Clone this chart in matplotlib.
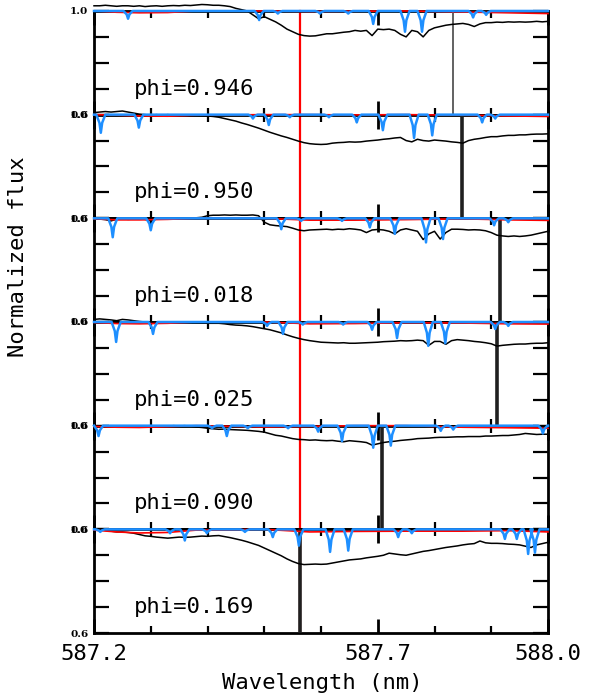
import numpy as np
import matplotlib
matplotlib.use('Agg')
import matplotlib.pyplot as plt
from matplotlib.ticker import FixedLocator, MultipleLocator

# ------------ data --------------------
phases = ['0.946', '0.950', '0.018', '0.025', '0.090', '0.169']
he_line = 587.563                       # red vertical line
mark_wl = [587.832, 587.849, 587.915, 587.910, 587.707, 587.563]   # black vertical lines

wave = np.linspace(587.2, 588.0, 81)   # 0.01 nm sampling

flux_946 = [1.02, 1.02, 1.022, 1.02, 1.018, 1.02, 1.02, 1.018, 1.02, 1.017,
            1.019, 1.02, 1.018, 1.02, 1.021, 1.02, 1.022, 1.021, 1.023, 1.025,
            1.024, 1.022, 1.022, 1.02, 1.017, 1.01, 1.005, 1.0, 0.985, 0.97,
            0.978, 0.968, 0.958, 0.945, 0.93, 0.92, 0.91, 0.905, 0.903, 0.904,
            0.908, 0.912, 0.912, 0.915, 0.918, 0.92, 0.925, 0.922, 0.925, 0.905,
            0.93, 0.928, 0.93, 0.925, 0.91, 0.90, 0.925, 0.92, 0.90, 0.925,
            0.935, 0.94, 0.945, 0.948, 0.95, 0.952, 0.948, 0.94, 0.95, 0.955,
            0.955, 0.957, 0.956, 0.958, 0.957, 0.958, 0.957, 0.958, 0.96, 0.958,
            0.96]
flux_950 = [1.008, 1.01, 1.012, 1.01, 1.012, 1.014, 1.01, 1.006, 1.002, 1.0,
            0.998, 1.0, 0.998, 1.0, 0.998, 0.997, 0.998, 0.996, 0.997, 0.996,
            0.995, 0.993, 0.99, 0.985, 0.98, 0.975, 0.968, 0.962, 0.955, 0.948,
            0.94, 0.932, 0.925, 0.918, 0.912, 0.905, 0.898, 0.892, 0.888, 0.886,
            0.885, 0.886, 0.89, 0.892, 0.893, 0.895, 0.894, 0.895, 0.898, 0.90,
            0.902, 0.905, 0.907, 0.91, 0.912, 0.90, 0.895, 0.905, 0.90, 0.898,
            0.902, 0.90, 0.898, 0.895, 0.893, 0.89, 0.90, 0.905, 0.908, 0.912,
            0.915, 0.915, 0.918, 0.92, 0.92, 0.922, 0.922, 0.924, 0.925, 0.925,
            0.926]
flux_018 = [0.998, 0.997, 0.995, 0.99, 0.997, 0.998, 0.996, 0.997, 0.998, 0.996,
            0.99, 0.997, 0.998, 0.999, 1.0, 0.999, 1.0, 1.0, 1.002, 1.004,
            1.01, 1.012, 1.012, 1.013, 1.012, 1.013, 1.012, 1.012, 1.013, 1.01,
            0.985, 0.975, 0.972, 0.97, 0.968, 0.962, 0.955, 0.952, 0.955, 0.956,
            0.957, 0.958, 0.956, 0.958, 0.957, 0.96, 0.958, 0.955, 0.945, 0.955,
            0.957, 0.955, 0.95, 0.94, 0.955, 0.96, 0.955, 0.95, 0.918, 0.94,
            0.95, 0.92, 0.945, 0.958, 0.958, 0.957, 0.955, 0.956, 0.955, 0.952,
            0.945, 0.935, 0.932, 0.93, 0.932, 0.93, 0.932, 0.935, 0.94, 0.945,
            0.95]
flux_025 = [1.01, 1.012, 1.01, 1.008, 1.005, 1.01, 1.008, 1.005, 1.002, 1.0,
            1.0, 0.998, 1.0, 0.999, 1.0, 0.998, 0.999, 0.998, 0.997, 0.996,
            0.995, 0.995, 0.995, 0.993, 0.99, 0.988, 0.987, 0.985, 0.982, 0.978,
            0.974, 0.97, 0.964, 0.958, 0.95, 0.943, 0.937, 0.932, 0.928, 0.925,
            0.922, 0.921, 0.92, 0.919, 0.92, 0.918, 0.918, 0.919, 0.92, 0.921,
            0.922, 0.924, 0.925, 0.926, 0.928, 0.927, 0.928, 0.93, 0.928, 0.91,
            0.925, 0.925, 0.914, 0.928, 0.932, 0.93, 0.928, 0.925, 0.923, 0.92,
            0.916, 0.907, 0.91, 0.912, 0.914, 0.915, 0.915, 0.917, 0.918, 0.918,
            0.92]
flux_090 = [1.0, 0.998, 0.997, 0.998, 0.996, 0.997, 0.995, 0.996, 0.994, 0.995,
            0.996, 0.995, 0.997, 0.998, 1.0, 0.999, 1.0, 0.998, 0.995, 0.993,
            0.99, 0.988, 0.986, 0.987, 0.985, 0.984, 0.983, 0.982, 0.98, 0.978,
            0.975, 0.969, 0.963, 0.96, 0.955, 0.95, 0.947, 0.946, 0.944, 0.945,
            0.943, 0.942, 0.943, 0.94, 0.938, 0.942, 0.94, 0.938, 0.935, 0.925,
            0.93, 0.935, 0.938, 0.94, 0.943, 0.945, 0.947, 0.95, 0.951, 0.952,
            0.954, 0.955, 0.955, 0.956, 0.957, 0.957, 0.958, 0.958, 0.958, 0.96,
            0.96, 0.961, 0.962, 0.962, 0.964, 0.966, 0.97, 0.968, 0.966, 0.967,
            0.967]
flux_169 = [0.997, 0.998, 0.996, 0.993, 0.99, 0.99, 0.988, 0.985, 0.98, 0.975,
            0.973, 0.97, 0.968, 0.966, 0.968, 0.97, 0.969, 0.97, 0.972, 0.974,
            0.973, 0.975, 0.976, 0.972, 0.968, 0.963, 0.958, 0.952, 0.945, 0.938,
            0.928, 0.918, 0.908, 0.898, 0.886, 0.876, 0.868, 0.864, 0.865, 0.866,
            0.865, 0.866, 0.87, 0.874, 0.878, 0.882, 0.884, 0.886, 0.89, 0.893,
            0.896, 0.90, 0.908, 0.905, 0.902, 0.90, 0.905, 0.91, 0.915, 0.918,
            0.922, 0.926, 0.93, 0.933, 0.936, 0.94, 0.943, 0.945, 0.955, 0.948,
            0.946, 0.946, 0.945, 0.943, 0.942, 0.94, 0.935, 0.93, 0.94, 0.945,
            0.95]

# telluric lines (centre, minimum) for each phase
tell_wl_946 = [587.260, 587.491, 587.524, 587.598, 587.648, 587.692, 587.748, 587.778, 587.868, 587.891]
tell_min_946 = [0.97, 0.965, 0.99, 0.99, 0.99, 0.95, 0.92, 0.92, 0.975, 0.985]
tell_wl_950 = [587.212, 587.279, 587.480, 587.508, 587.545, 587.614, 587.663, 587.709, 587.764, 587.796, 587.884, 587.907]
tell_min_950 = [0.93, 0.95, 0.985, 0.96, 0.99, 0.99, 0.97, 0.94, 0.91, 0.92, 0.97, 0.985]
tell_wl_018 = [587.233, 587.300, 587.530, 587.565, 587.637, 587.686, 587.730, 587.785, 587.815, 587.905, 587.930]
tell_min_018 = [0.927, 0.954, 0.958, 0.99, 0.99, 0.965, 0.94, 0.907, 0.92, 0.973, 0.985]
tell_wl_025 = [587.239, 587.304, 587.505, 587.533, 587.568, 587.639, 587.690, 587.734, 587.789, 587.819, 587.907, 587.930]
tell_min_025 = [0.923, 0.954, 0.985, 0.954, 0.99, 0.99, 0.97, 0.938, 0.908, 0.918, 0.973, 0.985]
tell_wl_090 = [587.208, 587.408, 587.434, 587.471, 587.542, 587.595, 587.637, 587.692, 587.723, 587.811, 587.833, 587.991]
tell_min_090 = [0.96, 0.99, 0.96, 0.99, 0.99, 0.977, 0.94, 0.915, 0.923, 0.98, 0.985, 0.97]
tell_wl_169 = [587.211, 587.334, 587.360, 587.399, 587.466, 587.515, 587.561, 587.616, 587.648, 587.736, 587.760, 587.924, 587.945, 587.965, 587.977]
tell_min_169 = [0.99, 0.985, 0.957, 0.985, 0.99, 0.97, 0.937, 0.913, 0.918, 0.97, 0.985, 0.963, 0.963, 0.905, 0.91]

# model continuum (red)
model_wl = [587.20, 587.24, 587.28, 587.33, 587.38, 587.50, 587.58, 587.66, 587.75, 587.85, 587.93, 588.00]
model_946 = [1.0, 0.995, 0.993, 0.994, 1.0, 1.0, 0.998, 0.999, 1.0, 0.996, 0.993, 0.99]
model_950 = [1.0, 0.998, 0.995, 0.994, 0.998, 1.0, 1.0, 0.999, 1.0, 0.998, 0.995, 0.993]
model_018 = [0.998, 0.994, 0.994, 0.996, 1.0, 1.0, 0.993, 0.993, 0.995, 0.998, 0.994, 0.992]
model_025 = [0.998, 0.994, 0.993, 0.995, 1.0, 1.0, 0.993, 0.994, 0.997, 0.996, 0.993, 0.992]
model_090 = [0.997, 0.994, 0.993, 0.996, 1.0, 0.995, 0.997, 1.0, 1.0, 0.994, 0.992, 0.99]
model_169 = [0.997, 0.99, 0.986, 0.988, 0.997, 1.0, 0.99, 0.992, 0.993, 0.993, 0.995, 0.99]

fluxes = [flux_946, flux_950, flux_018, flux_025, flux_090, flux_169]
tell_wls = [tell_wl_946, tell_wl_950, tell_wl_018, tell_wl_025, tell_wl_090, tell_wl_169]
tell_mins = [tell_min_946, tell_min_950, tell_min_018, tell_min_025, tell_min_090, tell_min_169]
models = [model_946, model_950, model_018, model_025, model_090, model_169]


def telluric_trace(centres, minima, hw=0.008):
    # continuum at 1.0 with a narrow, pointed dip for each line
    x, y = [587.2], [1.0]
    for c, m in zip(centres, minima):
        half = 1.0 - (1.0 - m) * 0.45
        x += [max(c - hw, 587.2), c - hw * 0.3, c, c + hw * 0.3, min(c + hw, 588.0)]
        y += [1.0, half, m, half, 1.0]
    x.append(588.0)
    y.append(1.0)
    return x, y


# ------------ plot --------------------
mono = 'DejaVu Sans Mono'
fig, axes = plt.subplots(6, 1, figsize=(5.89, 6.99), dpi=100, sharex=True)
fig.subplots_adjust(left=0.1596, right=0.9304, top=0.9843, bottom=0.0944, hspace=0)

for i, ax in enumerate(axes):
    ax.plot(wave, fluxes[i], color='black', lw=1.1, zorder=3, clip_on=False)
    ax.plot(model_wl, models[i], color='red', lw=1.2, zorder=3.5, clip_on=False)
    tx, ty = telluric_trace(tell_wls[i], tell_mins[i])
    ax.plot(tx, ty, color='#1e8fff', lw=1.8, zorder=4, clip_on=False)

    ax.axvline(he_line, color='red', lw=1.6, zorder=2.5, clip_on=False)
    if i == 0:
        ax.axvline(mark_wl[i], color='#555555', lw=1.3, zorder=2.6)
    else:
        ax.axvline(mark_wl[i], color='#202020', lw=2.6, zorder=2.6)

    ax.set_xlim(587.2, 588.0)
    ax.set_ylim(0.6, 1.0)
    for s in ax.spines.values():
        s.set_linewidth(2.0)

    ax.xaxis.set_major_locator(FixedLocator([587.2, 587.7, 588.0]))
    ax.xaxis.set_minor_locator(MultipleLocator(0.1))
    ax.set_xticklabels(['587.2', '587.7', '588.0'])
    ax.set_yticks([0.6, 0.7, 0.8, 0.9, 1.0])
    ax.set_yticklabels(['0.6', '', '', '', '1.0'])
    ax.tick_params(axis='x', which='major', direction='in', top=True, bottom=True,
                   length=10, width=2.0, labelbottom=(i == 5), pad=8, labelsize=16)
    ax.tick_params(axis='x', which='minor', direction='in', top=True, bottom=True,
                   length=5, width=1.6)
    ax.tick_params(axis='y', which='major', direction='in', left=True, right=True,
                   length=11, width=1.6, pad=4)
    for lab in ax.get_yticklabels():
        lab.set_fontfamily('DejaVu Serif')
        lab.set_fontweight('bold')
        lab.set_fontsize(7.5)
    for lab in ax.get_xticklabels():
        lab.set_fontfamily(mono)

    ax.text(0.088, 0.25, 'phi=' + phases[i], transform=ax.transAxes,
            fontsize=16, family=mono, va='center', ha='left')

fig.text(0.5467, 1 - 683 / 699, 'Wavelength (nm)', fontsize=16, family=mono,
         ha='center', va='center')
fig.text(18 / 589, 1 - 257 / 699, 'Normalized flux', fontsize=16, family=mono,
         ha='center', va='center', rotation=90)

plt.savefig('out.png', dpi=100)
